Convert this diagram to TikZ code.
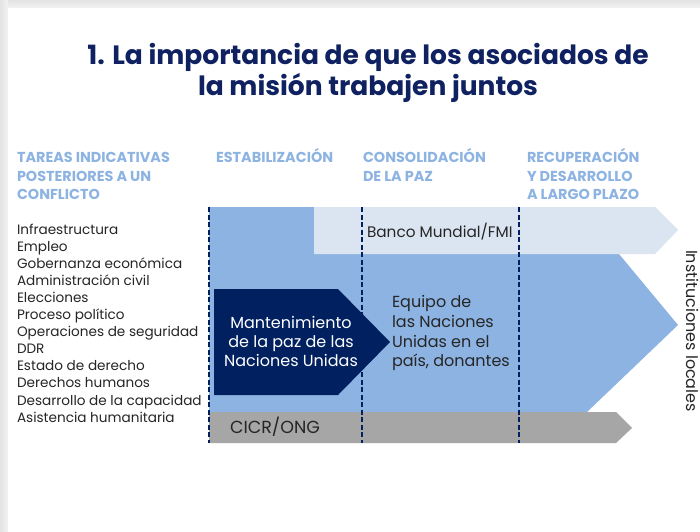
\documentclass[tikz,border=0pt]{standalone}
\usepackage{fontspec}
\setmainfont{Poppins}
\definecolor{navy}{HTML}{002060}
\definecolor{titlec}{HTML}{0F2160}
\definecolor{hdr}{HTML}{8DB3E2}
\definecolor{bluef}{HTML}{8DB3E2}
\definecolor{lightb}{HTML}{DBE5F1}
\definecolor{grayb}{HTML}{A6A6A6}
\definecolor{txt}{HTML}{262626}
\begin{document}
\begin{tikzpicture}[x=1pt,y=-1pt,
  every node/.style={inner sep=0pt,outer sep=0pt},
  titletext/.style={anchor=base,text=titlec,font=\fontsize{26.5}{30}\selectfont\bfseries},
  hdrtext/.style={anchor=base west,text=hdr,font=\fontsize{14.4}{17}\selectfont\bfseries},
  tasktext/.style={anchor=base west,text=txt,font=\fontsize{13.6}{16}\selectfont},
  boxtext/.style={anchor=base west,text=txt,font=\fontsize{16}{18}\selectfont},
  whitetext/.style={anchor=base,text=white,font=\fontsize{16}{18}\selectfont},
  phase/.style={navy,line width=1.5pt,dash pattern=on 5pt off 2.5pt}]
\useasboundingbox (0,0) rectangle (700,531);
\fill[white] (0,0) rectangle (700,531);
\shade[top color=gray!22,bottom color=gray!10] (0,0) rectangle (700,8);
\shade[left color=gray!22,right color=gray!10] (0,0) rectangle (8,531);
\fill[white] (8,8) rectangle (700,531);

% title
\node[titletext] (title1) at (368,64) {1. La importancia de que los asociados de};
\node[titletext] (title2) at (368,95) {la misión trabajen juntos};

% headers
\node[hdrtext] (ha1) at (17,162) {TAREAS INDICATIVAS};
\node[hdrtext] (ha2) at (17,181) {POSTERIORES A UN};
\node[hdrtext] (ha3) at (17,199) {CONFLICTO};
\node[hdrtext] (hb1) at (216,162) {ESTABILIZACIÓN};
\node[hdrtext] (hc1) at (363,162) {CONSOLIDACIÓN};
\node[hdrtext] (hc2) at (363,181) {DE LA PAZ};
\node[hdrtext] (hd1) at (527,162) {RECUPERACIÓN};
\node[hdrtext] (hd2) at (527,181) {Y DESARROLLO};
\node[hdrtext] (hd3) at (527,199) {A LARGO PLAZO};

% tasks
\foreach \t [count=\i] in {Infraestructura,Empleo,Gobernanza económica,Administración civil,Elecciones,Proceso político,Operaciones de seguridad,DDR,Estado de derecho,Derechos humanos,Desarrollo de la capacidad,Asistencia humanitaria}
  \node[tasktext] (task\i) at (17,{234+17.1*(\i-1)}) {\t};

% shapes
\fill[bluef] (209,207) -- (580,207) -- (678,325) -- (587,412) -- (209,412) -- cycle;
\fill[lightb] (314,207) -- (655,207) -- (678,230) -- (655,254) -- (314,254) -- cycle;
\fill[grayb] (209,412) -- (616,412) -- (632,428) -- (616,443) -- (209,443) -- cycle;

% phase lines
\draw[phase] (209,207) -- (209,443);
\draw[phase] (362,207) -- (362,443);
\draw[phase] (519,207) -- (519,443);

\fill[navy] (214,289) -- (338,289) -- (390,342) -- (338,395) -- (214,395) -- cycle;

% shape texts
\node[boxtext,font=\fontsize{15.3}{18}\selectfont] (banco) at (367,237) {Banco Mundial/FMI};
\node[boxtext] (eq1) at (392,307) {Equipo de};
\node[boxtext] (eq2) at (392,327) {las Naciones};
\node[boxtext] (eq3) at (392,347) {Unidas en el};
\node[boxtext] (eq4) at (392,366) {país, donantes};
\node[whitetext] (mp1) at (291,328) {Mantenimiento};
\node[whitetext] (mp2) at (291,347) {de la paz de las};
\node[whitetext] (mp3) at (291,366) {Naciones Unidas};
\node[anchor=base west,text=txt,font=\fontsize{17.5}{20}\selectfont] (cicr) at (230,433) {CICR/ONG};
\node[anchor=base,rotate=-90,text=txt,font=\fontsize{16}{18}\selectfont] (inst) at (686,331) {Instituciones locales};
\end{tikzpicture}
\end{document}
